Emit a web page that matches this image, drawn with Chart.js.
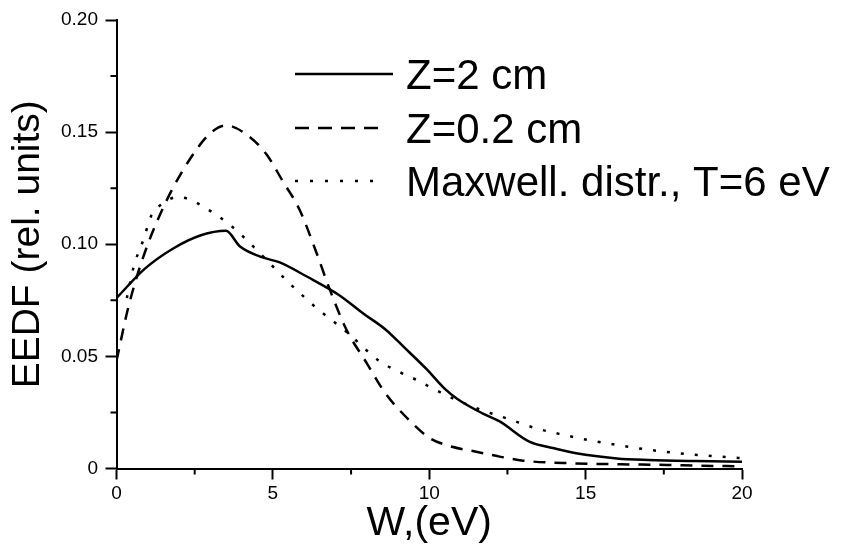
<!DOCTYPE html>
<html>
<head>
<meta charset="utf-8">
<script src="https://cdn.jsdelivr.net/npm/chart.js@4/dist/chart.umd.min.js"></script>
<style>
  body { margin: 0; background: #fff; }
  #box { width: 844px; height: 548px; }
</style>
</head>
<body>
<div id="box"><canvas id="eedf_chart" width="844" height="548"></canvas></div>
<script type="text/javascript">
    // values
    var wSolid = [0, 0.9, 1.8, 2.7, 3.5, 3.95, 4.7, 5.2, 6.1, 7.1, 7.9, 8.6, 9.2, 9.9, 10.5, 10.9, 11.7, 12.25, 13.2, 14.0, 14.7, 16.0, 17.0, 18.5, 20];
    var eedfSolid = [0.076, 0.089, 0.098, 0.104, 0.106, 0.099, 0.094, 0.092, 0.0855, 0.0775, 0.069, 0.062, 0.054, 0.0445, 0.0355, 0.031, 0.0246, 0.021, 0.012, 0.009, 0.0068, 0.0045, 0.0038, 0.0033, 0.003];

    var wDash = [0, 0.38, 0.86, 1.55, 2.35, 3.0, 3.5, 4.15, 4.8, 5.3, 5.85, 6.4, 6.8, 7.35, 8.0, 8.6, 9.4, 10.0, 10.7, 11.5, 12.25, 13.0, 14.6, 16.1, 17.6, 18.5, 20];
    var eedfDash = [0.048, 0.072, 0.0945, 0.118, 0.138, 0.1495, 0.153, 0.149, 0.14, 0.1285, 0.1155, 0.096, 0.0805, 0.062, 0.047, 0.0335, 0.021, 0.0137, 0.0098, 0.0075, 0.0053, 0.0035, 0.0023, 0.0019, 0.0016, 0.0013, 0.001];

    var wMax = [0.33, 0.55, 0.86, 1.12, 1.5, 1.92, 2.35, 2.77, 3.2, 3.63, 4.05, 4.48, 4.9, 5.5, 6.4, 7.35, 8.4, 9.2, 9.6, 10.0, 10.8, 11.67, 12.57, 13.42, 14.33, 15.23, 16.14, 17.04, 17.98, 18.9, 20];
    var eedfMax = [0.076, 0.09, 0.102, 0.113, 0.1183, 0.121, 0.12, 0.1168, 0.113, 0.1086, 0.1034, 0.0975, 0.0915, 0.083, 0.0715, 0.061, 0.048, 0.042, 0.0395, 0.0365, 0.031, 0.0261, 0.0219, 0.0179, 0.0149, 0.0123, 0.0102, 0.0083, 0.0068, 0.0057, 0.0046];

    var seriesLabels = ["Z=2 cm", "Z=0.2 cm", "Maxwell. distr., T=6 eV"];
    var xMajor = [0, 5, 10, 15, 20];
    var yMajor = [0, 0.05, 0.10, 0.15, 0.20];
    var xMinor = [2.5, 7.5, 12.5, 17.5];
    var yMinor = [0.025, 0.075, 0.125, 0.175];

    var FONT = "'Liberation Sans', Arial, sans-serif";

    function toPoints (xs, ys) {
        return xs.map(function (x, i) { return {x: x, y: ys[i]}; });
    }

    // short minor ticks
    var minorTicks = {
        id: "minorTicks",
        afterDraw: function (chart) {
            var ctx = chart.ctx, xs = chart.scales.x, ys = chart.scales.y;
            ctx.save();
            ctx.strokeStyle = "#000";
            ctx.lineWidth = 2;
            ctx.beginPath();
            xMinor.forEach(function (v) {
                var px = xs.getPixelForValue(v);
                ctx.moveTo(px, ys.bottom);
                ctx.lineTo(px, ys.bottom + 6);
            });
            yMinor.forEach(function (v) {
                var py = ys.getPixelForValue(v);
                ctx.moveTo(xs.left, py);
                ctx.lineTo(xs.left - 6, py);
            });
            ctx.stroke();
            ctx.restore();
        }
    };

    // legend inside the plot, upper right
    var innerLegend = {
        id: "innerLegend",
        afterDatasetsDraw: function (chart) {
            var ctx = chart.ctx;
            var rows = [74, 128, 181];
            var ends = [393, 380, 378];
            ctx.save();
            chart.data.datasets.forEach(function (ds, i) {
                ctx.strokeStyle = ds.borderColor;
                ctx.lineWidth = ds.borderWidth;
                ctx.setLineDash(ds.legendDash || []);
                ctx.beginPath();
                ctx.moveTo(295, rows[i]);
                ctx.lineTo(ends[i], rows[i]);
                ctx.stroke();
                ctx.setLineDash([]);
                ctx.fillStyle = "#000";
                ctx.font = "42px " + FONT;
                ctx.textBaseline = "alphabetic";
                ctx.textAlign = "left";
                ctx.fillText(ds.label, 406, rows[i] + 15);
            });
            ctx.restore();
        }
    };

    var ctx = document.getElementById("eedf_chart").getContext("2d");
    new Chart(ctx, {
        type: "line",
        data: {
            datasets: [{
                label: seriesLabels[0],
                data: toPoints(wSolid, eedfSolid),
                borderColor: "#000",
                borderWidth: 2.5,
                legendDash: []
            }, {
                label: seriesLabels[1],
                data: toPoints(wDash, eedfDash),
                borderColor: "#000",
                borderWidth: 2.5,
                borderDash: [12, 9],
                legendDash: [14, 9]
            }, {
                label: seriesLabels[2],
                data: toPoints(wMax, eedfMax),
                borderColor: "#000",
                borderWidth: 2.5,
                borderDash: [3, 11],
                legendDash: [3, 12]
            }]
        },
        plugins: [minorTicks, innerLegend],
        options: {
            responsive: false,
            animation: false,
            layout: {padding: {top: 20, right: 102, left: 0, bottom: 0}},
            elements: {
                point: {radius: 0},
                line: {cubicInterpolationMode: "monotone", fill: false}
            },
            plugins: {legend: {display: false}, tooltip: {enabled: false}},
            scales: {
                x: {
                    type: "linear",
                    min: 0,
                    max: 20,
                    afterFit: function (s) { s.height = 79.5; },
                    afterBuildTicks: function (s) {
                        s.ticks = xMajor.map(function (v) { return {value: v}; });
                    },
                    ticks: {
                        color: "#000",
                        padding: 3,
                        maxRotation: 0,
                        font: {family: FONT, size: 19},
                        callback: function (v) { return String(v); }
                    },
                    grid: {drawOnChartArea: false, tickLength: 11, tickWidth: 2, tickColor: "#000"},
                    border: {display: true, color: "#000", width: 2},
                    title: {
                        display: true,
                        text: "W,(eV)",
                        color: "#000",
                        font: {family: FONT, size: 41},
                        padding: {top: 0, bottom: 0}
                    }
                },
                y: {
                    type: "linear",
                    min: 0,
                    max: 0.2,
                    afterFit: function (s) { s.width = 116.5; },
                    afterBuildTicks: function (s) {
                        s.ticks = yMajor.map(function (v) { return {value: v}; });
                    },
                    ticks: {
                        color: "#000",
                        padding: 7.5,
                        font: {family: FONT, size: 19},
                        callback: function (v) { return v === 0 ? "0" : v.toFixed(2); }
                    },
                    grid: {drawOnChartArea: false, tickLength: 11, tickWidth: 2, tickColor: "#000"},
                    border: {display: true, color: "#000", width: 2},
                    title: {
                        display: true,
                        text: "EEDF (rel. units)",
                        color: "#000",
                        font: {family: FONT, size: 39},
                        padding: {top: 5, bottom: 0}
                    }
                }
            }
        }
    });
</script>
</body>
</html>
